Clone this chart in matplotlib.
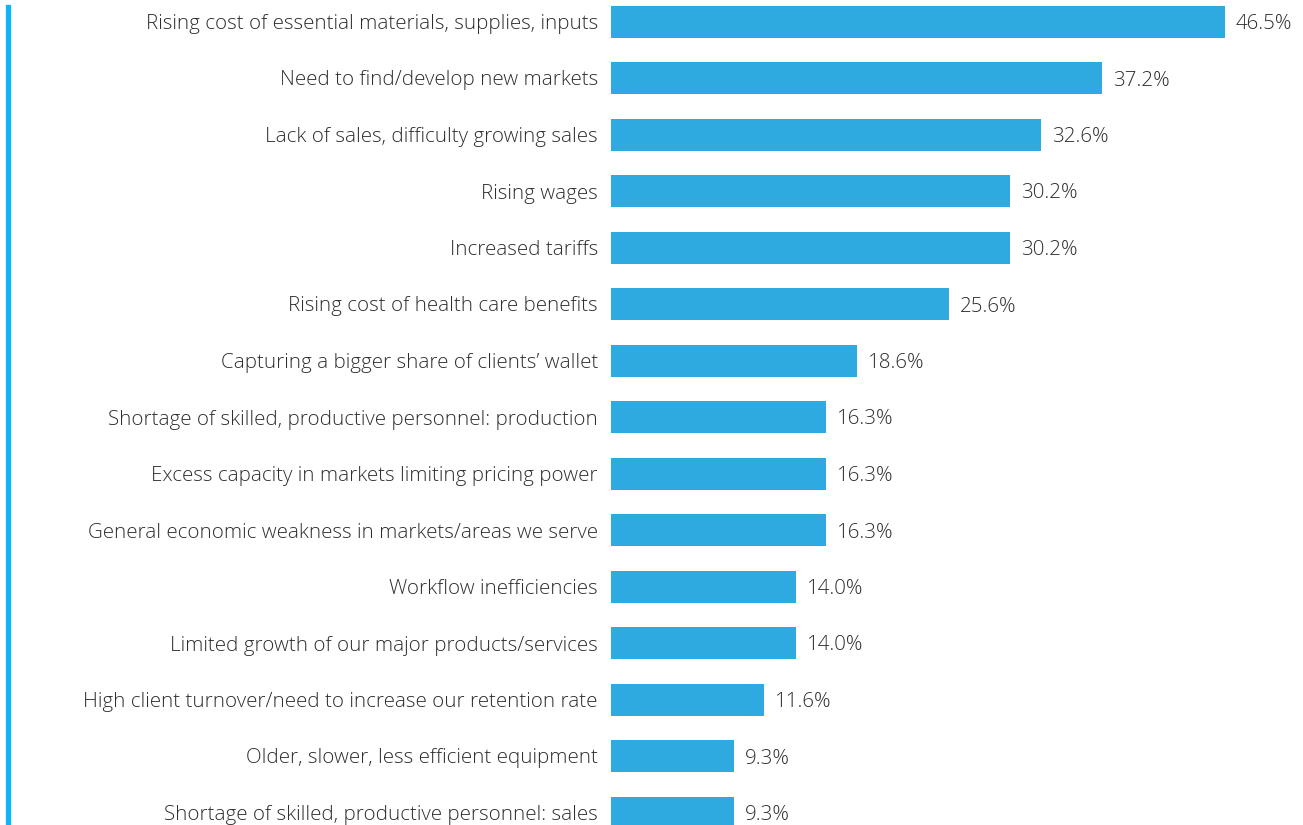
import matplotlib
matplotlib.use("Agg")
import matplotlib.pyplot as plt
from matplotlib.lines import Line2D

# challenges ranked by share of respondents
labels = [
    "Rising cost of essential materials, supplies, inputs",
    "Need to find/develop new markets",
    "Lack of sales, difficulty growing sales",
    "Rising wages",
    "Increased tariffs",
    "Rising cost of health care benefits",
    "Capturing a bigger share of clients\u2019 wallet",
    "Shortage of skilled, productive personnel: production",
    "Excess capacity in markets limiting pricing power",
    "General economic weakness in markets/areas we serve",
    "Workflow inefficiencies",
    "Limited growth of our major products/services",
    "High client turnover/need to increase our retention rate",
    "Older, slower, less efficient equipment",
    "Shortage of skilled, productive personnel: sales",
]
values = [46.5, 37.2, 32.6, 30.2, 30.2, 25.6, 18.6, 16.3, 16.3, 16.3,
          14.0, 14.0, 11.6, 9.3, 9.3]

plt.rcParams['font.family'] = ['Open Sans', 'DejaVu Sans']
FS = 14.8
TXT = "#2e2e2e"

W, H = 1303, 825
fig = plt.figure(figsize=(W / 100, H / 100), dpi=100)
ax = fig.add_axes([611 / W, 0, 1 - 611 / W, 1])

pitch = 56.5
ypos = list(range(len(values)))
ax.barh(ypos, values, height=32 / pitch, color="#2eaae1")

for y, v in zip(ypos, values):
    ax.text(v + 0.85, y, f"{v:.1f}%", va="center_baseline", ha="left",
            fontsize=FS, color=TXT, fontweight="light")

ax.set_xlim(0, (W - 611) / 13.2)
ax.set_ylim(14 + 12.5 / pitch, -21.5 / pitch)
ax.set_yticks(ypos)
ax.set_yticklabels(labels, fontsize=FS, color=TXT, fontweight="light",
                   va="center_baseline")
ax.tick_params(axis="y", length=0, pad=9.5)
ax.set_xticks([])
for s in ax.spines.values():
    s.set_visible(False)

# accent rule down the left edge
fig.add_artist(Line2D([7.5 / W, 7.5 / W], [0, 1 - 7 / H],
                      transform=fig.transFigure, color="#0fb4f5", lw=3.8))

fig.savefig("out.png", dpi=100)
